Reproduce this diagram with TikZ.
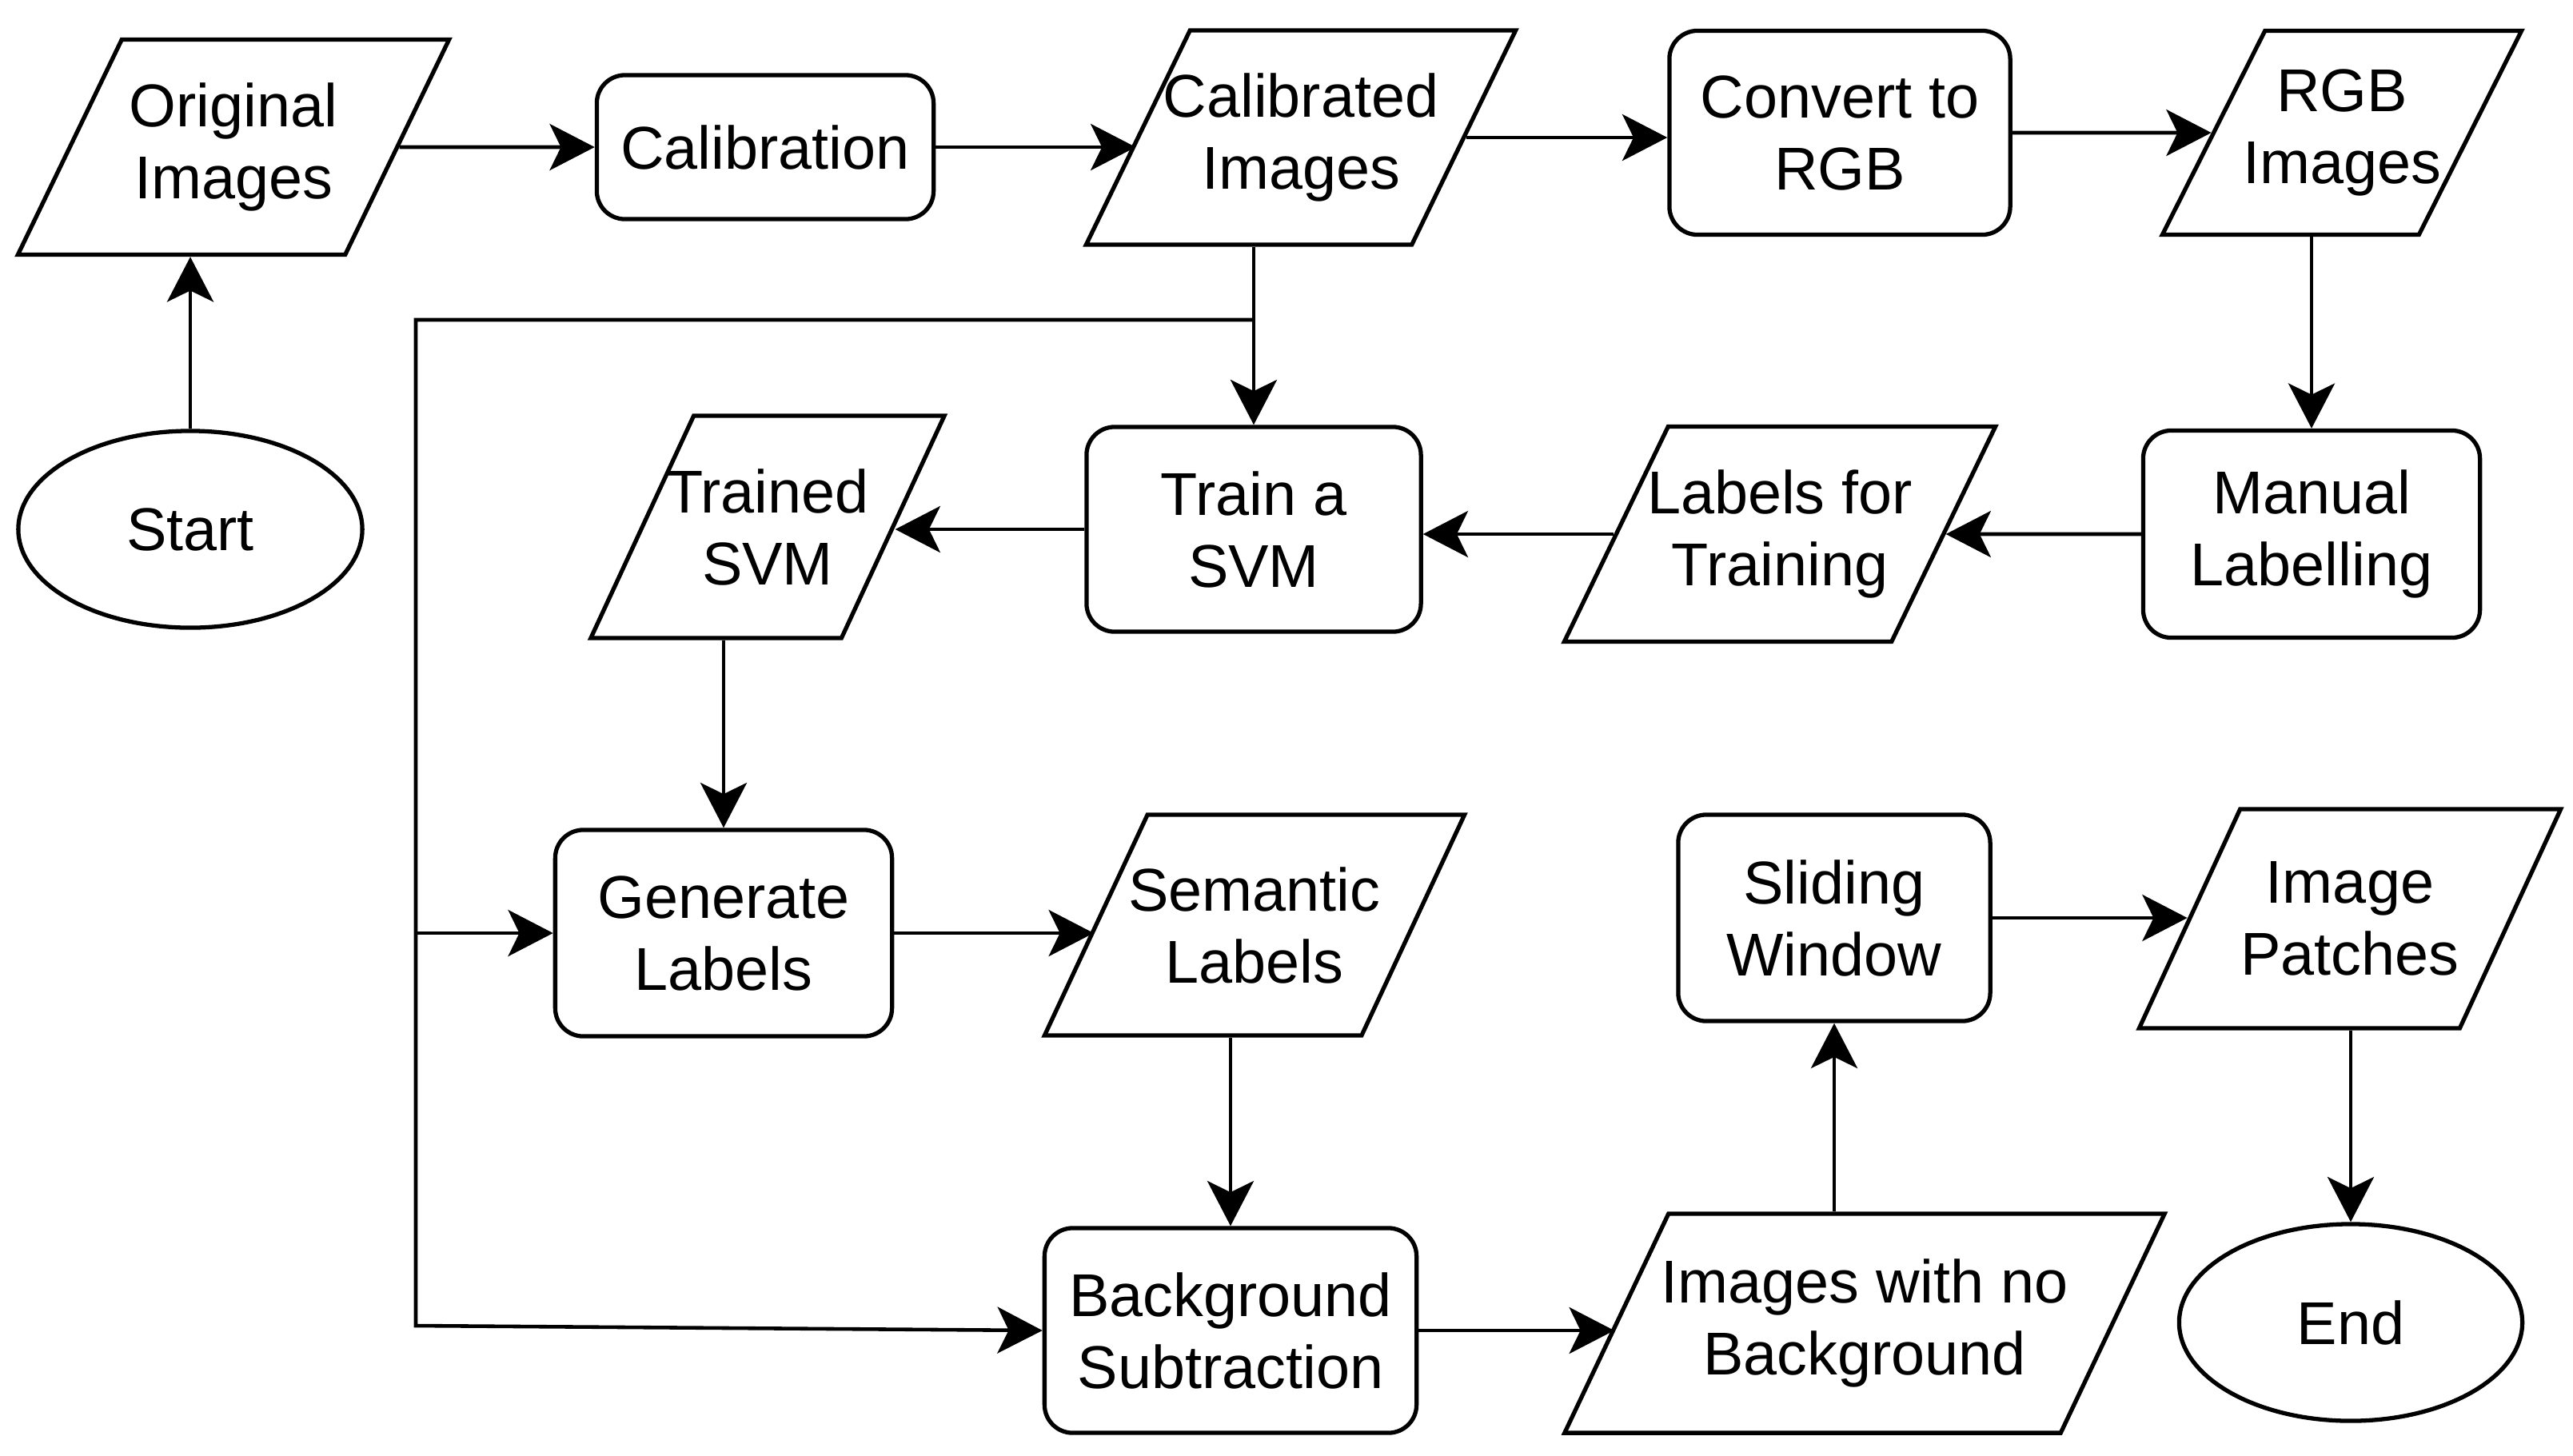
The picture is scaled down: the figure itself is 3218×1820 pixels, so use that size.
\documentclass[tikz,border=0pt]{standalone}
\usepackage{fontspec}
\setmainfont{Liberation Sans}
\usetikzlibrary{shapes.geometric, arrows.meta}
\tikzset{
	->, % makes the connectors directed
	>={Stealth[length=16pt, width=16.5pt, inset=4pt]}, % wide arrow heads
	every node/.style={font=\fontsize{21.5}{25.6}\selectfont, align=center, inner sep=0pt, line width=1.5pt}, % text of every box
	process/.style={draw, rectangle, rounded corners=10pt}, % steps
	io/.style={draw, trapezium, trapezium left angle=#1, trapezium right angle=180-#1, trapezium stretches body, inner xsep=-1cm}, % data, text may touch the slanted sides
	io/.default=51, % slant for boxes whose last line has descenders
	terminal/.style={draw, ellipse}, % start and end
}
\begin{document}
\begin{tikzpicture}[x=0.01cm, y=-0.01cm, line width=1.3pt]
	\useasboundingbox (0,0) rectangle (3218,1820);
			% first row
			\node[io, minimum width=5.39cm, minimum height=2.69cm] at (292,184) (orig) {Original\\Images};
			\node[process, minimum width=4.21cm, minimum height=1.80cm] at (957,184) (calibration) {Calibration};
			\node[io, minimum width=5.37cm, minimum height=2.68cm] at (1627,172) (calib) {Calibrated\\Images};
			\node[process, minimum width=4.26cm, minimum height=2.55cm] at (2301,166) (convert) {Convert to\\RGB};
			\node[io, minimum width=4.49cm, minimum height=2.55cm] at (2929,166) (rgb) {RGB\\Images};
			% second row
			\node[terminal, minimum width=4.30cm, minimum height=2.46cm] at (238,662) (start) {Start};
			\node[io=48.5, minimum width=4.42cm, minimum height=2.78cm] at (960,659) (trained) {Trained\\SVM};
			\node[process, minimum width=4.18cm, minimum height=2.56cm] at (1568,662) (train) {Train a\\SVM};
			\node[io, minimum width=5.39cm, minimum height=2.69cm] at (2226,668) (labels) {Labels for\\Training};
			\node[process, minimum width=4.21cm, minimum height=2.59cm] at (2891,668) (manual) {Manual\\Labelling};
			% third row
			\node[process, minimum width=4.21cm, minimum height=2.58cm] at (905,1167) (generate) {Generate\\Labels};
			\node[io=48.5, minimum width=5.25cm, minimum height=2.76cm] at (1569,1157) (semantic) {Semantic\\Labels};
			\node[process, minimum width=3.90cm, minimum height=2.58cm] at (2294,1148) (sliding) {Sliding\\Window};
			\node[io=48.5, minimum width=5.27cm, minimum height=2.74cm] at (2939,1149) (patches) {Image\\Patches};
			% fourth row
			\node[process, minimum width=4.65cm, minimum height=2.56cm] at (1539,1664) (background) {Background\\Subtraction};
			\node[io, minimum width=7.50cm, minimum height=2.74cm] at (2332,1655) (nobg) {Images with no\\Background};
			\node[terminal, minimum width=4.29cm, minimum height=2.46cm] at (2940,1654) (end) {End};
			% free ends of the feedback line
			\coordinate (split) at (1568,400);
			\coordinate (corner) at (520,400);
			\coordinate (bend) at (520,1658);
	\path 	(start.north) edge (start.north |- orig.south)
			(orig.east) edge (calibration.west)
			(calibration.east) edge (calibration.east -| calib.west)
			(calib.east) edge (calib.east -| convert.west)
			(convert.east) edge (rgb.west)
			(manual.north |- rgb.south) edge (manual.north)
			(manual.west) edge (labels.east)
			(labels.west) edge (labels.west -| train.east)
			(train.west) edge (train.west -| trained.east)
			(train.north |- calib.south) edge (train.north)
			(generate.north |- trained.south) edge (generate.north)
			(generate.east) edge (generate.east -| semantic.west)
			(background.north |- semantic.south) edge (background.north)
			(background.east) edge (background.east -| nobg.west)
			(nobg.north -| sliding.south) edge (sliding.south)
			(sliding.east) edge (sliding.east -| patches.west)
			(end.north |- patches.south) edge (end.north);
	\draw 	(split) -- (corner) -- (bend) -- (background.west);
	\draw 	(corner |- generate.west) -- (generate.west);
\end{tikzpicture}
\end{document}
